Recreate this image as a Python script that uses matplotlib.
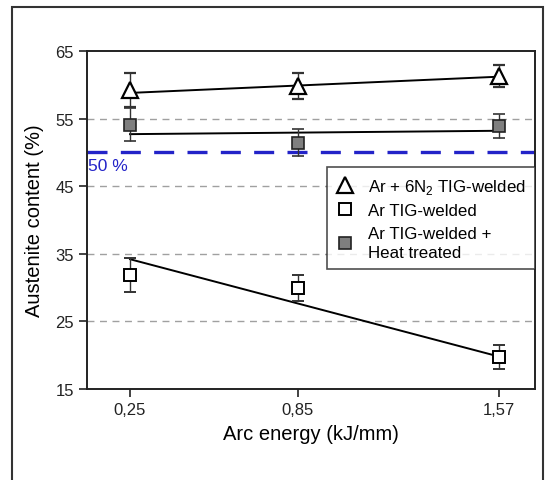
import matplotlib.pyplot as plt
import numpy as np
from matplotlib.lines import Line2D
from matplotlib.patches import Rectangle

plt.rcParams['font.family'] = ['Liberation Sans', 'DejaVu Sans']
plt.rcParams['mathtext.fontset'] = 'custom'
plt.rcParams['mathtext.rm'] = 'Liberation Sans'

# arc energy (kJ/mm)
energy = [0.25, 0.85, 1.57]
tick_labels = ['0,25', '0,85', '1,57']

# austenite content (%) and error
n2_welded = [59.2, 59.8, 61.3]
n2_err = [2.5, 1.9, 1.6]
ar_welded = [31.9, 29.9, 19.7]
ar_err = [2.5, 1.9, 1.8]
ar_heat = [54.1, 51.4, 53.9]
ar_heat_err = [2.4, 2.0, 1.8]

# trend lines (value at first and last arc energy)
n2_fit = [58.8, 61.2]
ar_fit = [34.2, 19.8]
heat_fit = [52.7, 53.2]

grid_levels = [25, 35, 45, 55]
limit = 50

fig = plt.figure(figsize=(5.48, 4.81), dpi=100)
ax = fig.add_axes([87 / 548, 1 - 390 / 481, 448 / 548, 338 / 481])

for g in grid_levels:
    ax.axhline(g, color='#a0a0a0', lw=1, ls=(0, (5, 4)), zorder=0)
ax.axhline(limit, color='#2323c8', lw=2.4, ls=(0, (6, 4)), zorder=1)
ax.text(0.1, limit - 0.8, '50 %', color='#2323c8', fontsize=12.5, va='top', ha='left')

ends = [energy[0], energy[-1]]
ax.plot(ends, n2_fit, color='black', lw=1.4, zorder=2)
ax.plot(ends, ar_fit, color='black', lw=1.4, zorder=2)
ax.plot(ends, heat_fit, color='black', lw=1.4, zorder=2)

eb = dict(ecolor='#333333', elinewidth=1, capsize=4, capthick=1, ls='none', zorder=3)
ax.errorbar(energy, n2_welded, yerr=n2_err, marker='^', ms=11, mfc='white', mec='black', mew=1.6, **eb)
ax.errorbar(energy, ar_welded, yerr=ar_err, marker='s', ms=9, mfc='white', mec='black', mew=1.4, **eb)
ax.errorbar(energy, ar_heat, yerr=ar_heat_err, marker='s', ms=9, mfc='#7f7f7f', mec='#222222', mew=1.2, **eb)

ax.set_xlim(0.096, 1.699)
ax.set_ylim(15, 65)
ax.set_xticks(energy, labels=tick_labels)
ax.set_yticks(range(15, 66, 10))
ax.tick_params(direction='out', length=6, width=1.2, labelsize=12, colors='#222222')
for s in ax.spines.values():
    s.set_linewidth(1.4)
    s.set_color('#222222')

ax.set_xlabel('Arc energy (kJ/mm)', fontsize=14.5, labelpad=5)
ax.set_ylabel('Austenite content (%)', fontsize=14.5, labelpad=8)

handles = [
    Line2D([], [], ls='none', marker='^', ms=11, mfc='white', mec='black', mew=1.6),
    Line2D([], [], ls='none', marker='s', ms=9, mfc='white', mec='black', mew=1.4),
    Line2D([], [], ls='none', marker='s', ms=9, mfc='#7f7f7f', mec='#222222', mew=1.2),
]
labels = ['Ar + 6N$_\\mathregular{2}$ TIG-welded', 'Ar TIG-welded', 'Ar TIG-welded +\nHeat treated']
leg = ax.legend(handles, labels, loc='upper left', bbox_to_anchor=(0.536, 0.656), borderaxespad=0,
                fontsize=12.2, frameon=True, fancybox=False, handlelength=1.0, handletextpad=0.85,
                labelspacing=0.45, borderpad=0.55)
leg.get_frame().set_edgecolor('#222222')
leg.get_frame().set_linewidth(1.2)
for t in leg.get_texts():
    t.set_linespacing(1.35)

fig.patches.append(Rectangle((12 / 548, -0.05), 531 / 548, 1.05 - 8 / 481, transform=fig.transFigure,
                             fill=False, edgecolor='#333333', lw=1.5))

fig.savefig('out.png', dpi=100)
